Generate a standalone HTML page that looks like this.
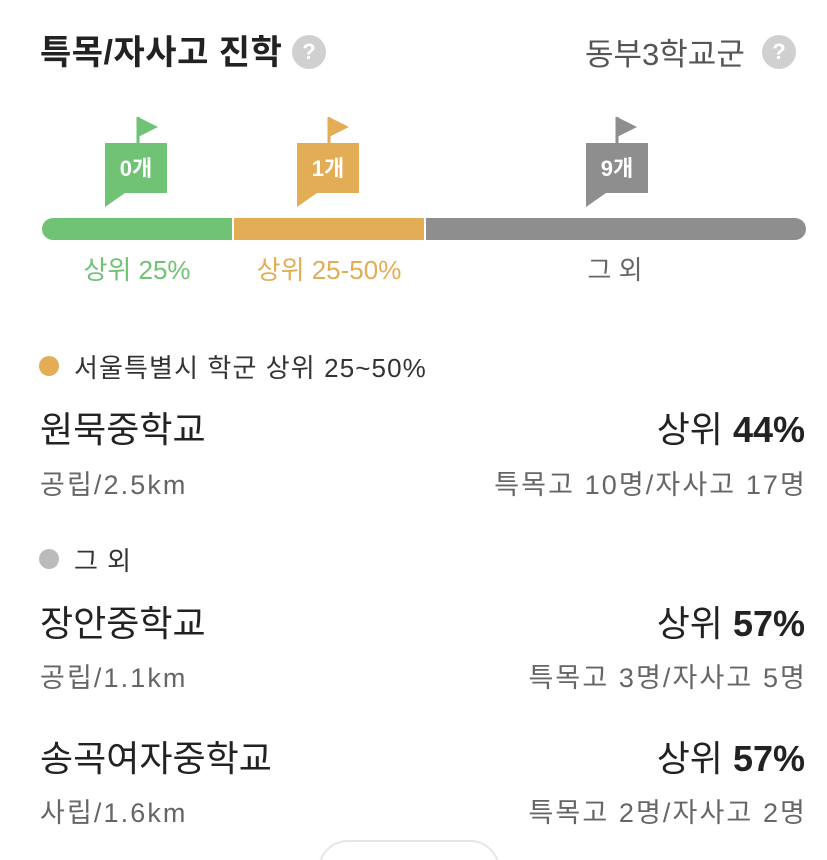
<!DOCTYPE html>
<html><head><meta charset="utf-8"><style>
*{margin:0;padding:0;box-sizing:border-box}
html,body{width:827px;height:860px;overflow:hidden}
body{background:#fff;position:relative;font-family:"Liberation Sans","Noto Sans CJK KR",sans-serif;color:#222}
.a{position:absolute;white-space:nowrap;line-height:1.2}
.q{position:absolute;width:34px;height:34px;border-radius:50%;background:#d0d0d0;color:#fff;font-size:22px;text-align:center;line-height:34px;font-weight:bold}
.r{right:22px;text-align:right}
.dot{position:absolute;width:20px;height:20px;border-radius:50%}
.s{font-size:27px;letter-spacing:2.1px;color:#666}
.n{font-size:36px;color:#222}
</style></head><body>
<div class="a" style="left:40px;top:33px;font-size:34px;font-weight:bold;letter-spacing:0.5px;color:#222">특목/자사고 진학</div>
<div class="q" style="left:292px;top:35px">?</div>
<div class="a" style="left:585px;top:36px;font-size:31px;color:#555">동부3학교군</div>
<div class="q" style="left:762px;top:35px">?</div>

<svg class="a" style="left:0;top:0" width="827" height="250">
 <g fill="#70c275"><line x1="138" y1="117" x2="138" y2="145" stroke="#70c275" stroke-width="3"/><polygon points="138,117 158,127 138,137"/><polygon points="105,143 167,143 167,193 125,193 105,207"/></g>
 <g fill="#e3ad55"><line x1="329" y1="117" x2="329" y2="145" stroke="#e3ad55" stroke-width="3"/><polygon points="329,117 349,127 329,137"/><polygon points="297,143 359,143 359,193 317,193 297,207"/></g>
 <g fill="#8e8e8e"><line x1="617" y1="117" x2="617" y2="145" stroke="#8e8e8e" stroke-width="3"/><polygon points="617,117 637,127 617,137"/><polygon points="586,143 648,143 648,193 606,193 586,207"/></g>
 <text x="136" y="176" fill="#fff" font-size="22" font-weight="bold" text-anchor="middle" font-family="Liberation Sans,Noto Sans CJK KR,sans-serif">0개</text>
 <text x="328" y="176" fill="#fff" font-size="22" font-weight="bold" text-anchor="middle" font-family="Liberation Sans,Noto Sans CJK KR,sans-serif">1개</text>
 <text x="617" y="176" fill="#fff" font-size="22" font-weight="bold" text-anchor="middle" font-family="Liberation Sans,Noto Sans CJK KR,sans-serif">9개</text>
 <path d="M53,218 H232 V240 H53 A11,11 0 0 1 53,218 Z" fill="#70c275"/>
 <rect x="234" y="218" width="190" height="22" fill="#e3ad55"/>
 <path d="M426,218 H795 A11,11 0 0 1 795,240 H426 Z" fill="#8e8e8e"/>
</svg>
<div class="a" style="left:137px;top:255px;transform:translateX(-50%);font-size:26px;color:#70c275">상위 25%</div>
<div class="a" style="left:329px;top:255px;transform:translateX(-50%);font-size:26px;color:#e3ad55">상위 25-50%</div>
<div class="a" style="left:615px;top:255px;transform:translateX(-50%);font-size:26px;color:#666">그 외</div>

<div class="dot" style="left:39px;top:356px;background:#e3ad55"></div>
<div class="a" style="left:74px;top:353px;font-size:26px;letter-spacing:1.1px;color:#333">서울특별시 학군 상위 25~50%</div>
<div class="a n" style="left:40px;top:408px">원묵중학교</div>
<div class="a r n" style="top:408px">상위 <b>44%</b></div>
<div class="a s" style="left:40px;top:469px">공립/2.5km</div>
<div class="a r s" style="top:469px;right:20px">특목고 10명/자사고 17명</div>

<div class="dot" style="left:39px;top:549px;background:#bbb"></div>
<div class="a" style="left:74px;top:546px;font-size:26px;letter-spacing:1px;color:#333">그 외</div>
<div class="a n" style="left:40px;top:602px">장안중학교</div>
<div class="a r n" style="top:602px">상위 <b>57%</b></div>
<div class="a s" style="left:40px;top:662px">공립/1.1km</div>
<div class="a r s" style="top:662px;right:20px">특목고 3명/자사고 5명</div>

<div class="a n" style="left:40px;top:737px">송곡여자중학교</div>
<div class="a r n" style="top:737px">상위 <b>57%</b></div>
<div class="a s" style="left:40px;top:797px">사립/1.6km</div>
<div class="a r s" style="top:797px;right:20px">특목고 2명/자사고 2명</div>

<div class="a" style="left:318px;top:840px;width:182px;height:60px;border:2px solid #e6e6e6;border-radius:30px"></div>
</body></html>
